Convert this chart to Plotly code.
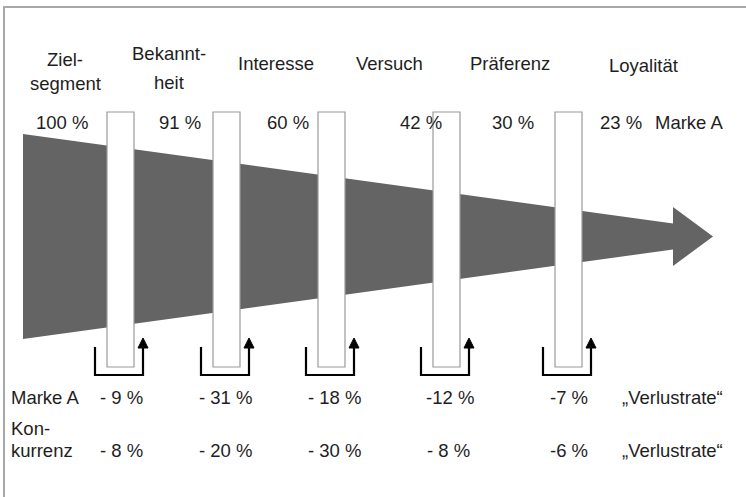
import plotly.graph_objects as go

# Funnel stages (label lines), share of brand A reaching each stage
stages = [["Ziel-", "segment"], ["Bekannt-", "heit"], ["Interesse"], ["Versuch"], ["Präferenz"], ["Loyalität"]]
share_brand_a = [100, 91, 60, 42, 30, 23]

# Loss rates between stages ("Verlustrate")
loss_brand_a = [-9, -31, -18, -12, -7]
loss_competition = [-8, -20, -30, -8, -6]
# whether a space follows the minus sign in the printed label
space_brand_a = [True, True, True, False, False]
space_competition = [True, True, True, True, False]

# ---- layout geometry (pixel-like coordinate system) ----
W, H = 746, 497
FONT = dict(family="Arial, Liberation Sans, sans-serif", size=18.5, color="#1e1e1e")
GREY = "#646464"

stage_x = [65, 169, 276, 389, 510, 643]
stage_line_y = [[59, 83], [53, 82], [63], [63], [63], [65]]
share_x = [62, 180, 288, 421, 513, 621]
share_y = 122
gate_left = [107, 213, 318, 433, 555]
gate_w = 27
gate_top, gate_bottom = 112, 367
loss_x_a = [121, 225, 334, 450, 569]
loss_x_c = [121, 225, 334, 448, 569]
row_a_y, row_c_y = 397, 450

fig = go.Figure()

# tapered arrow body
x0, x_neck, x_tip, cy = 23, 673, 713, 236.5
h0, h_neck, h_head = 102.5, 13, 29.5
ax = [x0, x_neck, x_neck, x_tip, x_neck, x_neck, x0, x0]
ay = [cy - h0, cy - h_neck, cy - h_head, cy, cy + h_head, cy + h_neck, cy + h0, cy - h0]
fig.add_trace(go.Scatter(x=ax, y=ay, mode="lines", fill="toself", fillcolor=GREY,
                         line=dict(color=GREY, width=0), hoverinfo="skip", showlegend=False))

shapes = []
# outer frame
shapes.append(dict(type="rect", xref="x", yref="y", x0=4, y0=7, x1=W + 20, y1=H + 20,
                   line=dict(color="#a8a8a8", width=2), fillcolor="rgba(0,0,0,0)", layer="above"))

for gl in gate_left:
    gr = gl + gate_w
    # white gate through the arrow
    shapes.append(dict(type="rect", xref="x", yref="y", x0=gl, y0=gate_top, x1=gr, y1=gate_bottom,
                       line=dict(color="#9a9a9a", width=1.2), fillcolor="white", layer="above"))
    # U-shaped loss bracket with arrow
    bl, br = gl - 12, gr + 9
    shapes.append(dict(type="path", xref="x", yref="y",
                       path=f"M {bl},347 L {bl},375 L {br},375 L {br},346",
                       line=dict(color="black", width=2.2), layer="above"))
    shapes.append(dict(type="path", xref="x", yref="y",
                       path=f"M {br - 5},348 L {br},338 L {br + 5},348 Z",
                       line=dict(color="black", width=1), fillcolor="black", layer="above"))

annotations = []


def txt(x, y, s, anchor="center"):
    annotations.append(dict(x=x, y=y, xref="x", yref="y", text=s, showarrow=False,
                            xanchor=anchor, yanchor="middle", font=FONT, borderpad=0))


for lines, xs, ys in zip(stages, stage_x, stage_line_y):
    for line, y in zip(lines, ys):
        txt(xs, y, line)

for v, xs in zip(share_brand_a, share_x):
    txt(xs, share_y, f"{v} %")
txt(654, share_y, "Marke A", "left")


def loss_label(v, spaced):
    return f"-{' ' if spaced else ''}{abs(v)} %"


txt(10, row_a_y, "Marke A", "left")
for v, sp, xs in zip(loss_brand_a, space_brand_a, loss_x_a):
    txt(xs, row_a_y, loss_label(v, sp))
txt(621, row_a_y, "\u201eVerlustrate\u201c", "left")

txt(10, 428, "Kon-", "left")
txt(10, row_c_y, "kurrenz", "left")
for v, sp, xs in zip(loss_competition, space_competition, loss_x_c):
    txt(xs, row_c_y, loss_label(v, sp))
txt(621, row_c_y, "\u201eVerlustrate\u201c", "left")

fig.update_layout(
    width=W, height=H, margin=dict(l=0, r=0, t=0, b=0),
    paper_bgcolor="white", plot_bgcolor="white",
    xaxis=dict(range=[0, W], visible=False, fixedrange=True),
    yaxis=dict(range=[H, 0], visible=False, fixedrange=True),
    shapes=shapes, annotations=annotations, showlegend=False,
)

fig.write_html("out.html")
